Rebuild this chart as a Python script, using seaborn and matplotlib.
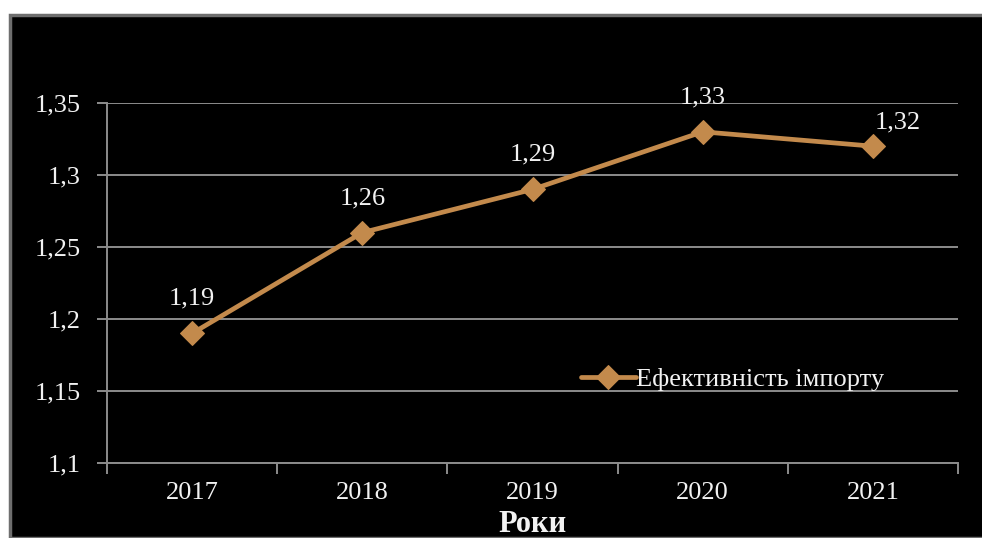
import matplotlib
matplotlib.use("Agg")
import matplotlib.pyplot as plt
from matplotlib.patches import Rectangle
from matplotlib.ticker import FixedLocator, FuncFormatter
import seaborn as sns
import pandas as pd

years = ["2017", "2018", "2019", "2020", "2021"]
efficiency = [1.19, 1.26, 1.29, 1.33, 1.32]
y_ticks = [1.1, 1.15, 1.2, 1.25, 1.3, 1.35]
series_name = "Ефективність імпорту"
x_title = "Роки"

df = pd.DataFrame({"year": years, "value": efficiency})

sns.set_theme(style="dark")
plt.rcParams["font.family"] = ["Liberation Serif", "DejaVu Serif"]

LINE = "#C38A4C"
GRID = "#8C8C8C"
TXT = "#F2F2F2"

fig = plt.figure(figsize=(9.82, 5.38), dpi=100)
fig.patch.set_facecolor("white")
# dark panel behind the chart
panel = Rectangle((10 / 982, 0), 1.0, (538 - 15) / 538,
                  transform=fig.transFigure, facecolor="black",
                  edgecolor="#6E6E6E", linewidth=2.5, zorder=-10)
fig.add_artist(panel)

ax = fig.add_axes([107 / 982, (538 - 463) / 538, (958 - 107) / 982, (463 - 103) / 538])
ax.set_zorder(1)
ax.set_facecolor("black")

sns.lineplot(data=df, x="year", y="value", ax=ax, color=LINE, linewidth=3.4,
             marker="D", markersize=12, markeredgecolor=LINE, sort=False,
             label=series_name, zorder=3)

ax.set_xlim(-0.5, len(years) - 0.5)
ax.set_ylim(y_ticks[0], y_ticks[-1])
ax.set_yticks(y_ticks)
ax.yaxis.set_major_formatter(FuncFormatter(lambda v, p: f"{v:g}".replace(".", ",")))
ax.set_xticks(range(len(years)))
ax.set_xticklabels(years)
ax.xaxis.set_minor_locator(FixedLocator([i - 0.5 for i in range(len(years) + 1)]))

ax.grid(axis="y", color=GRID, linewidth=1.4)
ax.grid(axis="x", visible=False)
for s in ["top", "right"]:
    ax.spines[s].set_visible(False)
for s in ["left", "bottom"]:
    ax.spines[s].set_visible(True)
    ax.spines[s].set_color(GRID)
    ax.spines[s].set_linewidth(1.4)

ax.tick_params(axis="y", which="major", length=7, width=1.4, color=GRID,
               labelcolor=TXT, labelsize=19, pad=12, left=True)
ax.tick_params(axis="x", which="major", length=0, labelcolor=TXT, labelsize=19, pad=14)
ax.tick_params(axis="x", which="minor", length=8, width=1.4, color=GRID, bottom=True)

ax.set_xlabel(x_title, color=TXT, fontsize=22, fontweight="bold", labelpad=4)
ax.set_ylabel("")

# value labels: centred above each point, the last one nudged to the right
offsets = [(0, 17), (0, 17), (0, 17), (0, 17), (18, 9)]
for i, v in enumerate(efficiency):
    ax.annotate(f"{v:.2f}".replace(".", ","), (i, v), xytext=offsets[i],
                textcoords="offset points", ha="center", va="bottom",
                color=TXT, fontsize=19)

leg = ax.legend(loc="upper left", bbox_to_anchor=((570 - 107) / 851, (463 - 357) / 360),
                frameon=False, fontsize=19, handlelength=2.1, handletextpad=0.0,
                borderaxespad=0)
for t in leg.get_texts():
    t.set_color(TXT)

fig.savefig("out.png", dpi=100, facecolor=fig.get_facecolor())
